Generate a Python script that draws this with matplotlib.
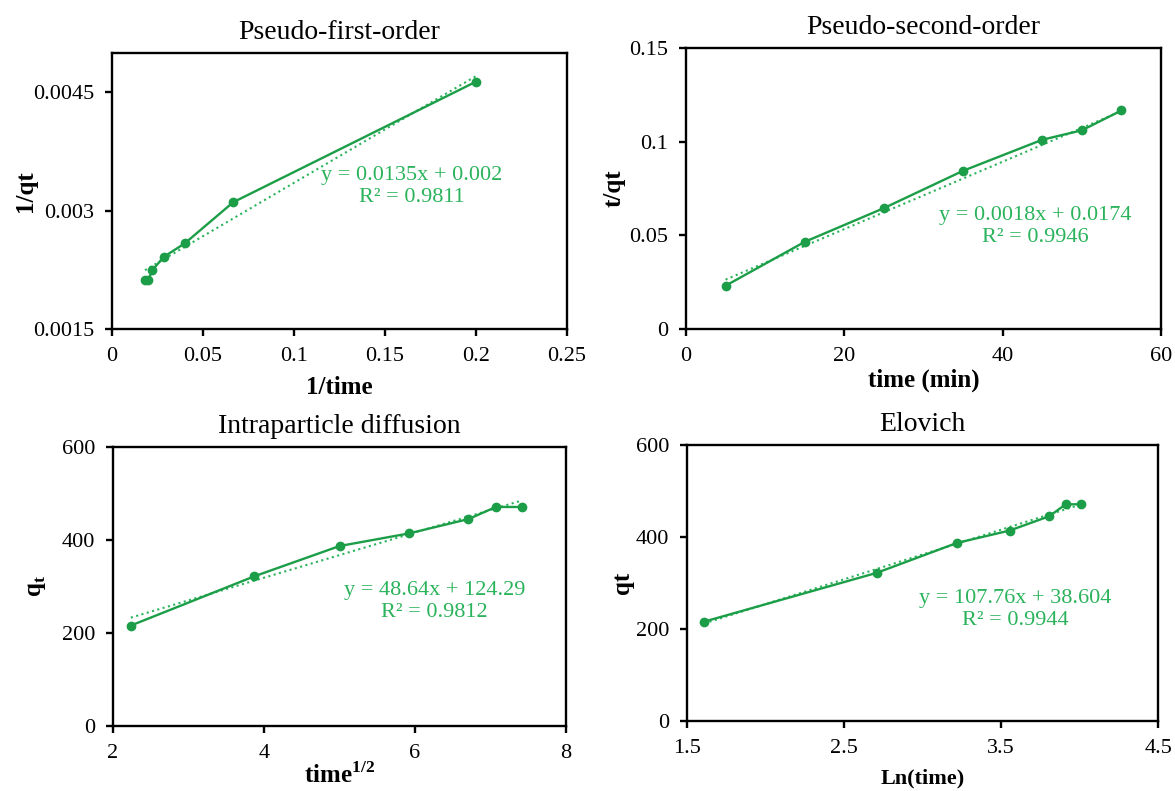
import numpy as np
import matplotlib
matplotlib.use('Agg')
import matplotlib.pyplot as plt

plt.rcParams['font.family'] = ['Liberation Serif', 'DejaVu Serif']
plt.rcParams['mathtext.fontset'] = 'custom'
plt.rcParams['mathtext.rm'] = 'Liberation Serif'
plt.rcParams['mathtext.bf'] = 'Liberation Serif:bold'

# kinetics data
time_min = np.array([5, 15, 25, 35, 45, 50, 55])
qt = np.array([216, 322, 387, 414, 445, 471, 471])

# trendline coefficients (slope, intercept) and R2 shown on the chart
fit_pfo = (0.0135, 0.002, '0.9811')
fit_pso = (0.0018, 0.0174, '0.9946')
fit_ipd = (48.64, 124.29, '0.9812')
fit_elo = (107.76, 38.604, '0.9944')

eq_pfo = 'y = 0.0135x + 0.002'
eq_pso = 'y = 0.0018x + 0.0174'
eq_ipd = 'y = 48.64x + 124.29'
eq_elo = 'y = 107.76x + 38.604'

line_color = '#1c9e48'
text_color = '#2bb35c'

fig = plt.figure(figsize=(11.75, 7.91), dpi=100)


def panel(rect, x, y, fit, eq, title, xlabel, ylabel, xlim, xticks, ylim, yticks,
          txt_pos, label_pos, xlabel_size=18):
    ax = fig.add_axes(rect)
    ax.plot(x, y, '-o', color=line_color, lw=1.7, ms=6, zorder=3)
    xs = np.array([x.min(), x.max()])
    ax.plot(xs, fit[0] * xs + fit[1], ':', color=text_color, lw=1.5, zorder=2)
    ax.set_xlim(xlim)
    ax.set_ylim(ylim)
    ax.set_xticks(xticks)
    ax.set_yticks(yticks)
    ax.set_xticklabels([('%g' % v) for v in xticks])
    ax.set_yticklabels([('%g' % v) for v in yticks])
    for s in ax.spines.values():
        s.set_linewidth(1.7)
        s.set_color('black')
    ax.tick_params(direction='out', length=5, width=1.7, labelsize=16, pad=8)
    ax.set_title(title, fontsize=20, pad=10)
    ax.set_xlabel(xlabel, fontsize=xlabel_size, fontweight='bold')
    ax.set_ylabel(ylabel, fontsize=18, fontweight='bold')
    ax.xaxis.set_label_coords(0.5, label_pos[0])
    ax.xaxis.label.set_va('center')
    ax.yaxis.set_label_coords(label_pos[1], 0.5)
    ax.yaxis.label.set_va('center')
    ax.text(txt_pos[0], txt_pos[1], eq + '\nR² = ' + fit[2], transform=ax.transAxes,
            ha='center', va='center', fontsize=16, color=text_color, linespacing=1.2)
    return ax


panel([0.0953, 0.584, 0.387, 0.3496], 1 / time_min, 1 / qt, fit_pfo, eq_pfo,
      'Pseudo-first-order', '1/time', '1/qt', (0, 0.25), [0, 0.05, 0.1, 0.15, 0.2, 0.25],
      (0.0015, 0.005), [0.0015, 0.003, 0.0045], (0.66, 0.515), (-0.21, -0.191))

panel([0.5838, 0.584, 0.4043, 0.355], time_min, time_min / qt, fit_pso, eq_pso,
      'Pseudo-second-order', 'time (min)', 't/qt', (0, 60), [0, 20, 40, 60],
      (0, 0.15), [0, 0.05, 0.1, 0.15], (0.735, 0.365), (-0.181, -0.152))

panel([0.0962, 0.0822, 0.3855, 0.3527], np.sqrt(time_min), qt, fit_ipd, eq_ipd,
      'Intraparticle diffusion', r'time$^{\mathbf{1/2}}$', r'q$_{\mathbf{t}}$', (2, 8), [2, 4, 6, 8],
      (0, 600), [0, 200, 400, 600], (0.71, 0.445), (-0.176, -0.17))

panel([0.5847, 0.0885, 0.4009, 0.349], np.log(time_min), qt, fit_elo, eq_elo,
      'Elovich', 'Ln(time)', 'qt', (1.5, 4.5), [1.5, 2.5, 3.5, 4.5],
      (0, 600), [0, 200, 400, 600], (0.697, 0.405), (-0.207, -0.138), xlabel_size=16)

fig.savefig('out.png', dpi=100)
